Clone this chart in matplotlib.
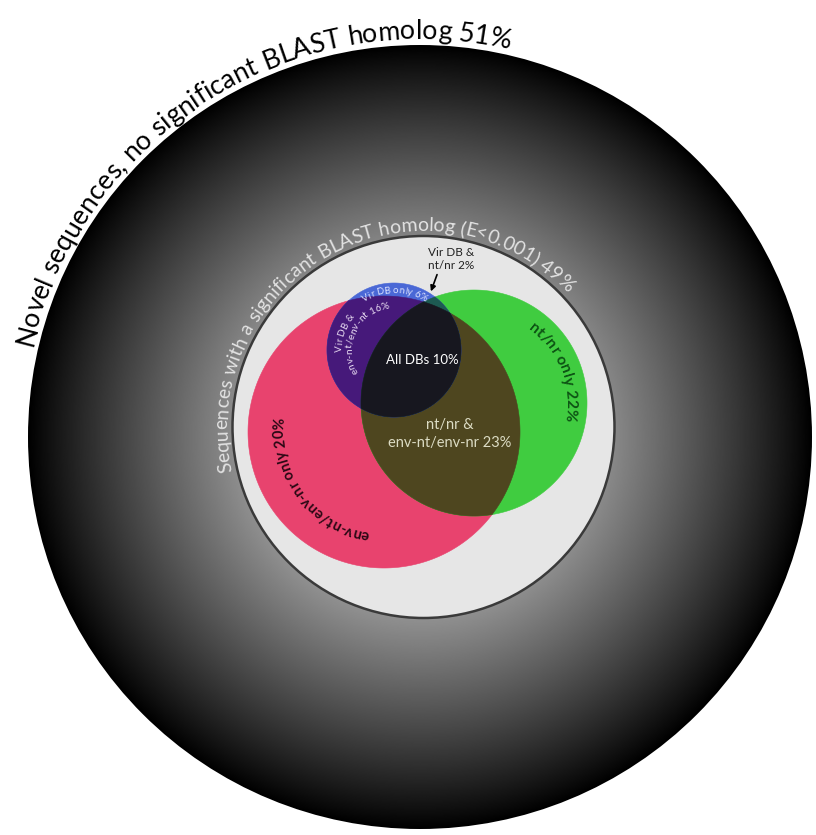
import numpy as np
import matplotlib
matplotlib.use("Agg")
import matplotlib.pyplot as plt
from matplotlib.patches import Circle, Polygon, FancyArrowPatch
from matplotlib.font_manager import FontProperties, findfont, get_font

# ---------------- data ----------------
outer_labels = ["Novel sequences, no significant BLAST homolog",
                "Sequences with a significant BLAST homolog (E<0.001)"]
outer_pcts = [51, 49]

venn_labels = ["nt/nr only", "env-nt/env-nr only", "Vir DB only",
               "Vir DB &|env-nt/env-nt", "All DBs", "nt/nr &|env-nt/env-nr",
               "Vir DB &|nt/nr"]
venn_pcts = [22, 20, 6, 16, 10, 23, 2]

# ---------------- layout (pixels) ----------------
W, H, DPI = 816, 835, 100
FAMILY = ["Lato", "DejaVu Sans"]

OUT_C, OUT_R = (420, 437), 392
GRAY_C, GRAY_R = (423.5, 427), 191
RED_C, RED_R = (384, 432), 136
GREEN_C, GREEN_R = (474, 403), 113
BLUE_C, BLUE_R = (394, 350), 67

fig = plt.figure(figsize=(W / DPI, H / DPI), dpi=DPI)
ax = fig.add_axes([0, 0, 1, 1])
ax.set_xlim(0, W)
ax.set_ylim(H, 0)
ax.set_aspect("equal")
ax.axis("off")

# ---------------- outer gradient disk ----------------
n = 900
xs = np.linspace(OUT_C[0] - OUT_R, OUT_C[0] + OUT_R, n)
ys = np.linspace(OUT_C[1] - OUT_R, OUT_C[1] + OUT_R, n)
X, Y = np.meshgrid(xs, ys)
rr = np.hypot(X - OUT_C[0], Y - OUT_C[1]) / OUT_R
img = np.clip(1.0 - rr, 0, 1) ** 0.92
outer_patch = Circle(OUT_C, OUT_R, fc="none", ec="none")
ax.add_patch(outer_patch)
im = ax.imshow(img, cmap="gray", vmin=0, vmax=1,
               extent=(OUT_C[0] - OUT_R, OUT_C[0] + OUT_R,
                       OUT_C[1] + OUT_R, OUT_C[1] - OUT_R),
               origin="upper", interpolation="bilinear", zorder=1)
im.set_clip_path(outer_patch)

# ---------------- gray disk ----------------
ax.add_patch(Circle(GRAY_C, GRAY_R, fc="#e6e6e6", ec="#3a3a3a", lw=1.8, zorder=2))


# ---------------- venn ----------------
def circ_pts(c, r, m=2400):
    t = np.linspace(0, 2 * np.pi, m, endpoint=False)
    return np.column_stack([c[0] + r * np.cos(t), c[1] + r * np.sin(t)])


def intersection(circles):
    pts = []
    for i, (c, r) in enumerate(circles):
        p = circ_pts(c, r)
        mask = np.ones(len(p), bool)
        for j, (c2, r2) in enumerate(circles):
            if j != i:
                mask &= np.hypot(p[:, 0] - c2[0], p[:, 1] - c2[1]) <= r2
        pts.append(p[mask])
    pts = np.vstack(pts)
    cen = pts.mean(axis=0)
    ang = np.arctan2(pts[:, 1] - cen[1], pts[:, 0] - cen[0])
    return pts[np.argsort(ang)]


red = (RED_C, RED_R)
green = (GREEN_C, GREEN_R)
blue = (BLUE_C, BLUE_R)

layers = [
    ([red], "#e8436e"),
    ([green], "#40cc40"),
    ([red, green], "#4e461f"),
    ([blue], "#4a68d6"),
    ([blue, red], "#46197a"),
    ([blue, green], "#1d5a52"),
    ([blue, red, green], "#17171f"),
]
for k, (cs, col) in enumerate(layers):
    poly = intersection(cs)
    ax.add_patch(Polygon(poly, closed=True, fc=col, ec=col, lw=0.4, zorder=3 + k * 0.01))


# ---------------- curved text ----------------
def char_metrics(text, weight):
    fp = FontProperties(family=FAMILY, size=10, weight=weight)
    font = get_font(findfont(fp))
    font.set_size(10, 72)
    adv, inkc = [], []
    for ch in text:
        g = font.load_char(ord(ch))
        adv.append(g.linearHoriAdvance / 65536.0)
        inkc.append((g.horiBearingX + g.width / 2.0) / 64.0)
    return np.array(adv), np.array(inkc)


def curved_text(text, center, radius, start_deg, end_deg, color, weight="normal", z=10):
    adv, inkc = char_metrics(text, weight)
    k = DPI / 72.0
    arc = np.radians(start_deg - end_deg) * radius
    fs = 10 * arc / (adv.sum() * k)
    scale = k * fs / 10
    lefts = np.concatenate([[0], np.cumsum(adv)[:-1]]) * scale
    pos = lefts + inkc * scale
    for ch, si in zip(text, pos):
        if ch == " ":
            continue
        th = np.radians(start_deg) - si / radius
        x = center[0] + radius * np.cos(th)
        y = center[1] - radius * np.sin(th)
        ax.text(x, y, ch, rotation=np.degrees(th) - 90, rotation_mode="anchor",
                ha="center", va="baseline", fontsize=fs, color=color,
                family=FAMILY, weight=weight, zorder=z)


curved_text(f"{outer_labels[0]} {outer_pcts[0]}%", OUT_C, OUT_R + 6, 167, 77, "black")
curved_text(f"{outer_labels[1]} {outer_pcts[1]}%", GRAY_C, GRAY_R + 5, 193, 43, "#e2e2e2")

curved_text(f"{venn_labels[0]} {venn_pcts[0]}%", GREEN_C, 92, 54, -11, "#0d5414", weight="bold")
curved_text(f"{venn_labels[1]} {venn_pcts[1]}%", RED_C, 100, 262, 172, "#2a0814", weight="bold")
curved_text(f"{venn_labels[2]} {venn_pcts[2]}%", BLUE_C, 57, 122, 57, "#dfe4ff")
l1, l2 = venn_labels[3].split("|")
curved_text(l1, BLUE_C, 52, 182, 140, "#e6d8f0")
curved_text(f"{l2} {venn_pcts[3]}%", BLUE_C, 42, 212, 96, "#e6d8f0")

# ---------------- straight labels ----------------
ax.text(422, 360, f"{venn_labels[4]} {venn_pcts[4]}%", ha="center", va="center",
        fontsize=9.5, color="white", family=FAMILY, zorder=10)
a1, a2 = venn_labels[5].split("|")
ax.text(450, 434, f"{a1}\n{a2} {venn_pcts[5]}%", ha="center", va="center",
        fontsize=10.5, color="#dcdcc4", family=FAMILY, linespacing=1.3, zorder=10)
b1, b2 = venn_labels[6].split("|")
ax.text(451, 259, f"{b1}\n{b2} {venn_pcts[6]}%", ha="center", va="center",
        fontsize=8.5, color="#222222", family=FAMILY, linespacing=1.25, zorder=10)
ax.add_patch(FancyArrowPatch((438, 272), (430, 294), arrowstyle="-|>",
                             mutation_scale=8, color="black", lw=1.2, zorder=11))

fig.savefig("out.png", dpi=DPI, facecolor="white")
